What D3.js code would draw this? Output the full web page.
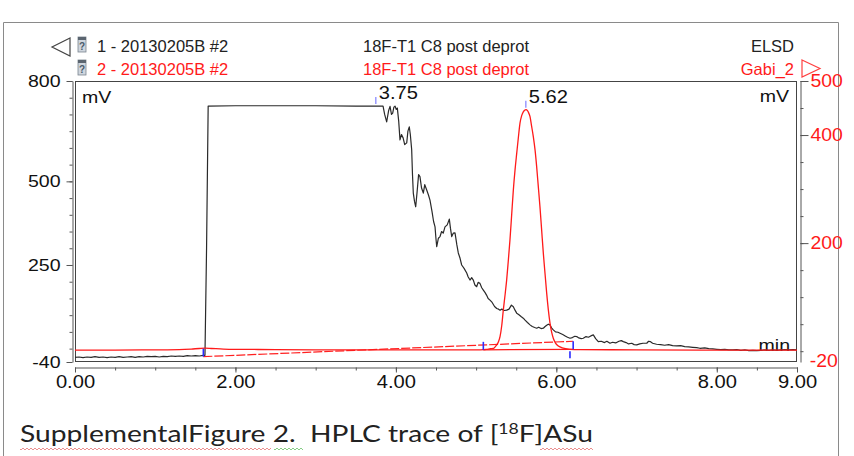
<!DOCTYPE html>
<html><head><meta charset="utf-8">
<script src="https://cdn.jsdelivr.net/npm/d3@7"></script>
<style>body{margin:0;background:#fff}svg{display:block}</style>
</head><body>
<svg id="c" width="854" height="456"></svg>
<script>
// ---------------- data ----------------
const timeTicks = [0, 2, 4, 6, 8, 9];
const timeMinorTicks = [0,0.5,1,1.5,2,2.5,3,3.5,4,4.5,5,5.5,6,6.5,7,7.5,8,8.5,9];
const leftTicks = [800, 500, 250, -40];
const leftMinorTicks = [0,50,100,150,200,250,300,350,400,450,500,550,600,650,700,750,800];
const rightTicks = [500, 400, 200, -20];
const rightMinorTicks = [0,50,100,150,200,250,300,350,400,450,500];

// trace 1 : ELSD (left axis, mV)
const blackT = [0.00,0.05,0.10,0.15,0.20,0.25,0.30,0.35,0.40,0.45,0.50,0.55,0.60,0.65,0.70,0.75,0.80,0.85,0.90,0.95,1.00,1.05,1.10,1.15,1.20,1.25,1.30,1.35,1.40,1.45,1.50,1.55,1.60,1.62,1.64,1.66,2.0,2.5,3.0,3.5,3.84,
3.86,3.885,3.91,3.927,3.945,3.96,3.975,3.989,4.005,4.018,4.035,4.051,4.07,4.09,4.11,4.135,4.15,4.167,4.18,4.197,4.207,4.217,4.232,4.247,4.265,4.283,4.30,4.32,4.342,4.36,4.384,4.405,4.425,4.45,4.47,4.488,4.499,4.509,4.53,4.55,4.57,4.59,4.612,4.64,4.666,4.68,4.696,4.715,4.737,4.76,4.778,4.80,4.82,4.85,4.883,4.90,4.924,4.945,4.965,4.985,5.007,5.025,5.048,5.07,5.09,5.11,5.13,5.15,5.173,5.20,5.23,5.257,5.28,5.298,5.32,5.35,5.381,5.41,5.44,5.464,5.485,5.506,5.53,5.56,5.588,5.61,5.64,5.672,5.70,5.73,5.755,5.78,5.81,5.838,5.86,5.88,5.90,5.921,5.94,5.962,5.99,6.02,6.046,6.08,6.11,6.14,6.17,6.20,6.23,6.254,6.28,6.31,6.336,6.37,6.40,6.43,6.461,6.49,6.523,6.56,6.60,6.63,6.669,6.70,6.74,6.78,6.81,6.835,6.87,6.90,6.94,6.97,7.002,7.04,7.08,7.127,7.15,7.17,7.20,7.25,7.30,7.35,7.40,7.45,7.50,7.55,7.60,7.65,7.70,7.75,7.79,7.85,7.90,7.95,8.00,8.05,8.10,8.15,8.20,8.25,8.30,8.35,8.40,8.45,8.50,8.55,8.60,8.65,8.70,8.75,8.80,8.85,8.90,8.95,9.00];
const blackV = [-26,-25,-27,-25,-26,-24,-26,-25,-27,-25,-26,-24,-26,-25,-24,-26,-24,-25,-23,-24,-23,-25,-23,-24,-22,-23,-22,-23,-21,-22,-21,-22,-20,-20,300,725,726,726,726,725,725,
700,678,712,724,700,704,722,725,715,719,680,624,640,630,610,615,650,663,640,594,520,465,440,424,470,520,514,480,465,490,474,460,444,410,380,364,330,305,330,335,350,345,364,370,387,360,335,345,346,310,286,270,250,240,226,215,205,212,205,190,185,198,195,182,175,168,160,150,145,138,126,120,118,115,118,114,115,118,130,125,115,106,102,96,91,85,78,71,66,63,61,64,60,61,66,70,73,71,62,56,50,49,46,42,38,34,31,33,37,36,32,30,31,36,34,38,41,30,21,22,18,22,16,19,17,22,24,21,18,14,16,12,11,14,16,16,22,21,16,13,12,10,12,9,8,9,6,5,4,3,1,2,0,-1,-2,-3,-2,-4,-4,-3,-5,-4,-6,-5,-6,-5,-4,-5,-4,-5,-4,-3,-4,-3,-4];

// trace 2 : Gabi_2 (right axis, mV)
const redT = [0.0,0.5,1.0,1.3,1.45,1.55,1.62,1.7,1.85,2.0,2.5,3.0,4.0,5.0,5.1,5.13,5.18,5.215,5.237,5.257,5.28,5.298,5.32,5.339,5.36,5.381,5.40,5.422,5.443,5.464,5.485,5.506,5.527,5.547,5.568,5.588,5.605,5.622,5.64,5.655,5.672,5.69,5.713,5.735,5.755,5.775,5.796,5.817,5.838,5.86,5.88,5.90,5.921,5.94,5.962,5.99,6.02,6.046,6.10,6.17,6.30,7.0,8.0,9.0];
const redV = [2,2,2.5,3,4,5,5.5,5,4,3.5,3,2.5,2.5,2.5,3,3.5,4.5,5,8,11.5,18,27,48,76,103,132,165,206,252,298,335,366,396,422,436,443,446,447,445,441,434,418,397,372,341,305,267,224,181,142,107,77,52,36,24,15,10,8,5,3.5,3,2.5,2,2];

// integration baselines
const baseBlackT = [1.60, 6.21];   // left axis
const baseBlackV = [-24, 22];
const baseRedT = [5.09, 6.21];     // right axis
const baseRedV = [2.5, 3.5];

// peak labels
const peakT = [3.75, 5.62];
const peakV = [725, 447];
const peakAxis = ["left", "right"];
const peakLabels = ["3.75", "5.62"];

// integration markers
const markT = [1.60, 5.09, 6.21];
const markV = [-24, 2.5, 3.5];
const markAxis = ["left", "right", "right"];

// header / caption texts
const header1 = ["1 - 20130205B #2", "18F-T1 C8 post deprot", "ELSD"];
const header2 = ["2 - 20130205B #2", "18F-T1 C8 post deprot", "Gabi_2"];

// ---------------- drawing ----------------
const svg = d3.select("#c");
const FONT = "'Liberation Sans', Arial, sans-serif";
const SX = 1.15;
const fmtInt = d => String(d);

const x = d3.scaleLinear().domain([0, 9]).range([75, 797]);
const yL = d3.scaleLinear().domain([-40, 800]).range([362, 81]);
const yR = d3.scaleLinear().domain([-20, 500]).range([362, 81]);

// page border
svg.append("path").attr("d", "M3.5,456 V22.5 H838.5 V456")
  .attr("fill", "none").attr("stroke", "#8a8a8a").attr("stroke-width", 1);

// header
const hdr = svg.append("g").attr("font-family", FONT).attr("font-size", 16.5);
[[header1, "#222", 52], [header2, "#ff1a1a", 75]].forEach(([h, col, yy]) => {
  hdr.append("text").attr("x", 97).attr("y", yy).attr("fill", col).text(h[0]);
  hdr.append("text").attr("x", 446).attr("y", yy).attr("text-anchor", "middle").attr("fill", col).text(h[1]);
  hdr.append("text").attr("x", 794).attr("y", yy).attr("text-anchor", "end").attr("fill", col).text(h[2]);
  const ic = hdr.append("g").attr("transform", `translate(78,${yy - 15})`);
  ic.append("rect").attr("width", 8).attr("height", 15).attr("fill", "#cfd6de").attr("stroke", "#7a8590").attr("stroke-width", 0.8);
  ic.append("rect").attr("width", 8).attr("height", 3).attr("fill", "#5b6570");
  ic.append("text").attr("x", 4).attr("y", 13).attr("text-anchor", "middle").attr("font-size", 10).attr("font-weight", "bold").attr("fill", "#4a5a6a").text("?");
});
svg.append("polygon").attr("points", "70,38 52,47 70,56").attr("fill", "#fff").attr("stroke", "#444").attr("stroke-width", 1.2);
svg.append("polygon").attr("points", "802,60 820,68.5 802,77").attr("fill", "#fff").attr("stroke", "#ff4040").attr("stroke-width", 1.2);

// plot frame
svg.append("rect").attr("x", 75.5).attr("y", 81.5).attr("width", 721).attr("height", 280)
  .attr("fill", "none").attr("stroke", "#444").attr("stroke-width", 1);

function styleAxis(g, col) {
  g.select(".domain").attr("stroke", "#555");
  g.selectAll(".tick line").attr("stroke", "#555");
  g.selectAll("text").attr("fill", col).attr("font-family", FONT);
}

// left axis
const gl = svg.append("g").attr("transform", "translate(72.5,0)");
gl.call(d3.axisLeft(yL).tickValues(leftMinorTicks).tickSize(3).tickSizeOuter(0).tickFormat(""));
gl.append("g").call(d3.axisLeft(yL).tickValues(leftTicks).tickSize(6).tickSizeOuter(0).tickFormat(fmtInt))
  .call(g => g.select(".domain").remove());
styleAxis(gl, "#111");
gl.selectAll("text").attr("font-size", 17).attr("x", -12 / SX).attr("transform", `scale(${SX},1)`);

// right axis
const gr = svg.append("g").attr("transform", "translate(800.5,0)");
gr.call(d3.axisRight(yR).tickValues(rightMinorTicks).tickSize(3).tickSizeOuter(0).tickFormat(""));
gr.append("g").call(d3.axisRight(yR).tickValues(rightTicks.filter(v => v >= 0)).tickSize(8).tickSizeOuter(0).tickFormat(fmtInt))
  .call(g => g.select(".domain").remove());
styleAxis(gr, "#ff1a1a");
gr.selectAll("text").attr("font-size", 18).attr("x", 10 / 1.08).attr("transform", "scale(1.08,1)");
gr.append("text").attr("y", yR(-20) - 1).attr("dy", "0.32em").attr("fill", "#ff1a1a")
  .attr("font-family", FONT).attr("font-size", 18).attr("transform", "scale(1.08,1)").attr("x", 8.5)
  .text(fmtInt(rightTicks[3]));

// bottom axis
const gb = svg.append("g").attr("transform", "translate(0,367.5)");
gb.call(d3.axisBottom(x).tickValues(timeMinorTicks).tickSize(3).tickSizeOuter(0).tickFormat(""));
gb.append("g").call(d3.axisBottom(x).tickValues(timeTicks).tickSize(5).tickSizeOuter(0).tickFormat(d3.format(".2f")))
  .call(g => g.select(".domain").remove());
styleAxis(gb, "#111");
gb.selectAll("text").attr("font-size", 18).attr("y", 21).attr("dy", 0).attr("transform", "scale(1.12,1)");

// unit labels
const ul = svg.append("g").attr("font-family", FONT).attr("font-size", 17).attr("fill", "#111");
ul.append("text").attr("transform", `translate(82,103) scale(${SX},1)`).text("mV");
ul.append("text").attr("transform", `translate(789,102) scale(${SX},1)`).attr("text-anchor", "end").text("mV");

// traces
svg.append("clipPath").attr("id", "pc").append("rect")
  .attr("x", 75).attr("y", 81).attr("width", 722).attr("height", 281);
const plot = svg.append("g").attr("clip-path", "url(#pc)");

plot.append("path").datum(d3.zip(baseBlackT, baseBlackV))
  .attr("d", d3.line().x(d => x(d[0])).y(d => yL(d[1])))
  .attr("fill", "none").attr("stroke", "#ff2020").attr("stroke-width", 1.2).attr("stroke-dasharray", "9,2");

plot.append("path").datum(d3.zip(blackT, blackV))
  .attr("d", d3.line().x(d => x(d[0])).y(d => yL(d[1])))
  .attr("fill", "none").attr("stroke", "#2a2a2a").attr("stroke-width", 1.2).attr("stroke-linejoin", "round");

plot.append("path").datum(d3.zip(redT, redV))
  .attr("d", d3.line().curve(d3.curveMonotoneX).x(d => x(d[0])).y(d => yR(d[1])))
  .attr("fill", "none").attr("stroke", "#ff1a1a").attr("stroke-width", 1.3);

plot.append("path").datum(d3.zip(baseRedT, baseRedV))
  .attr("d", d3.line().x(d => x(d[0])).y(d => yR(d[1])))
  .attr("fill", "none").attr("stroke", "#ff1a1a").attr("stroke-width", 1.2);

// integration markers
markT.forEach((t, i) => {
  const yy = markAxis[i] === "left" ? yL(markV[i]) : yR(markV[i]);
  svg.append("line").attr("x1", x(t)).attr("x2", x(t)).attr("y1", yy).attr("y2", yy - 8)
    .attr("stroke", "#2a2aff").attr("stroke-width", 1.6);
});
svg.append("line").attr("x1", x(6.17)).attr("x2", x(6.17)).attr("y1", yR(0)).attr("y2", yR(0) + 7)
  .attr("stroke", "#2a2aff").attr("stroke-width", 1.6);

// peak labels
peakT.forEach((t, i) => {
  const yy = peakAxis[i] === "left" ? yL(peakV[i]) : yR(peakV[i]);
  svg.append("line").attr("x1", x(t)).attr("x2", x(t)).attr("y1", yy - 2).attr("y2", yy - 9)
    .attr("stroke", "#8080ff").attr("stroke-width", 1.2);
  svg.append("text").attr("transform", `translate(${x(t) + 3},${yy - 7}) scale(${SX},1)`)
    .attr("font-family", FONT).attr("font-size", 17.5).attr("fill", "#111").text(peakLabels[i]);
});

// "min"
ul.append("text").attr("transform", `translate(790,351) scale(${SX},1)`).attr("text-anchor", "end").text("min");

// caption
const cap = svg.append("text").attr("x", 20).attr("y", 442)
  .attr("font-family", "Lato, 'Open Sans', sans-serif").attr("font-size", 24).attr("fill", "#222");
cap.append("tspan").text("SupplementalFigure 2.  HPLC trace of [");
cap.append("tspan").attr("font-size", 15).attr("dy", -8).text("18");
cap.append("tspan").attr("dy", 8).text("F]ASu");
cap.attr("textLength", 573).attr("lengthAdjust", "spacingAndGlyphs").style("white-space", "pre");

function squiggle(x0, x1, col) {
  let d = `M${x0},449`;
  for (let xx = x0; xx < x1; xx += 2) d += ` L${xx + 1},${xx % 4 === x0 % 4 ? 450 : 448}`;
  svg.append("path").attr("d", d).attr("fill", "none").attr("stroke", col).attr("stroke-width", 0.8).attr("opacity", 0.8);
}
squiggle(20, 272, "#e05050");
squiggle(274, 304, "#40b040");
squiggle(540, 594, "#e05050");
</script>
</body></html>
